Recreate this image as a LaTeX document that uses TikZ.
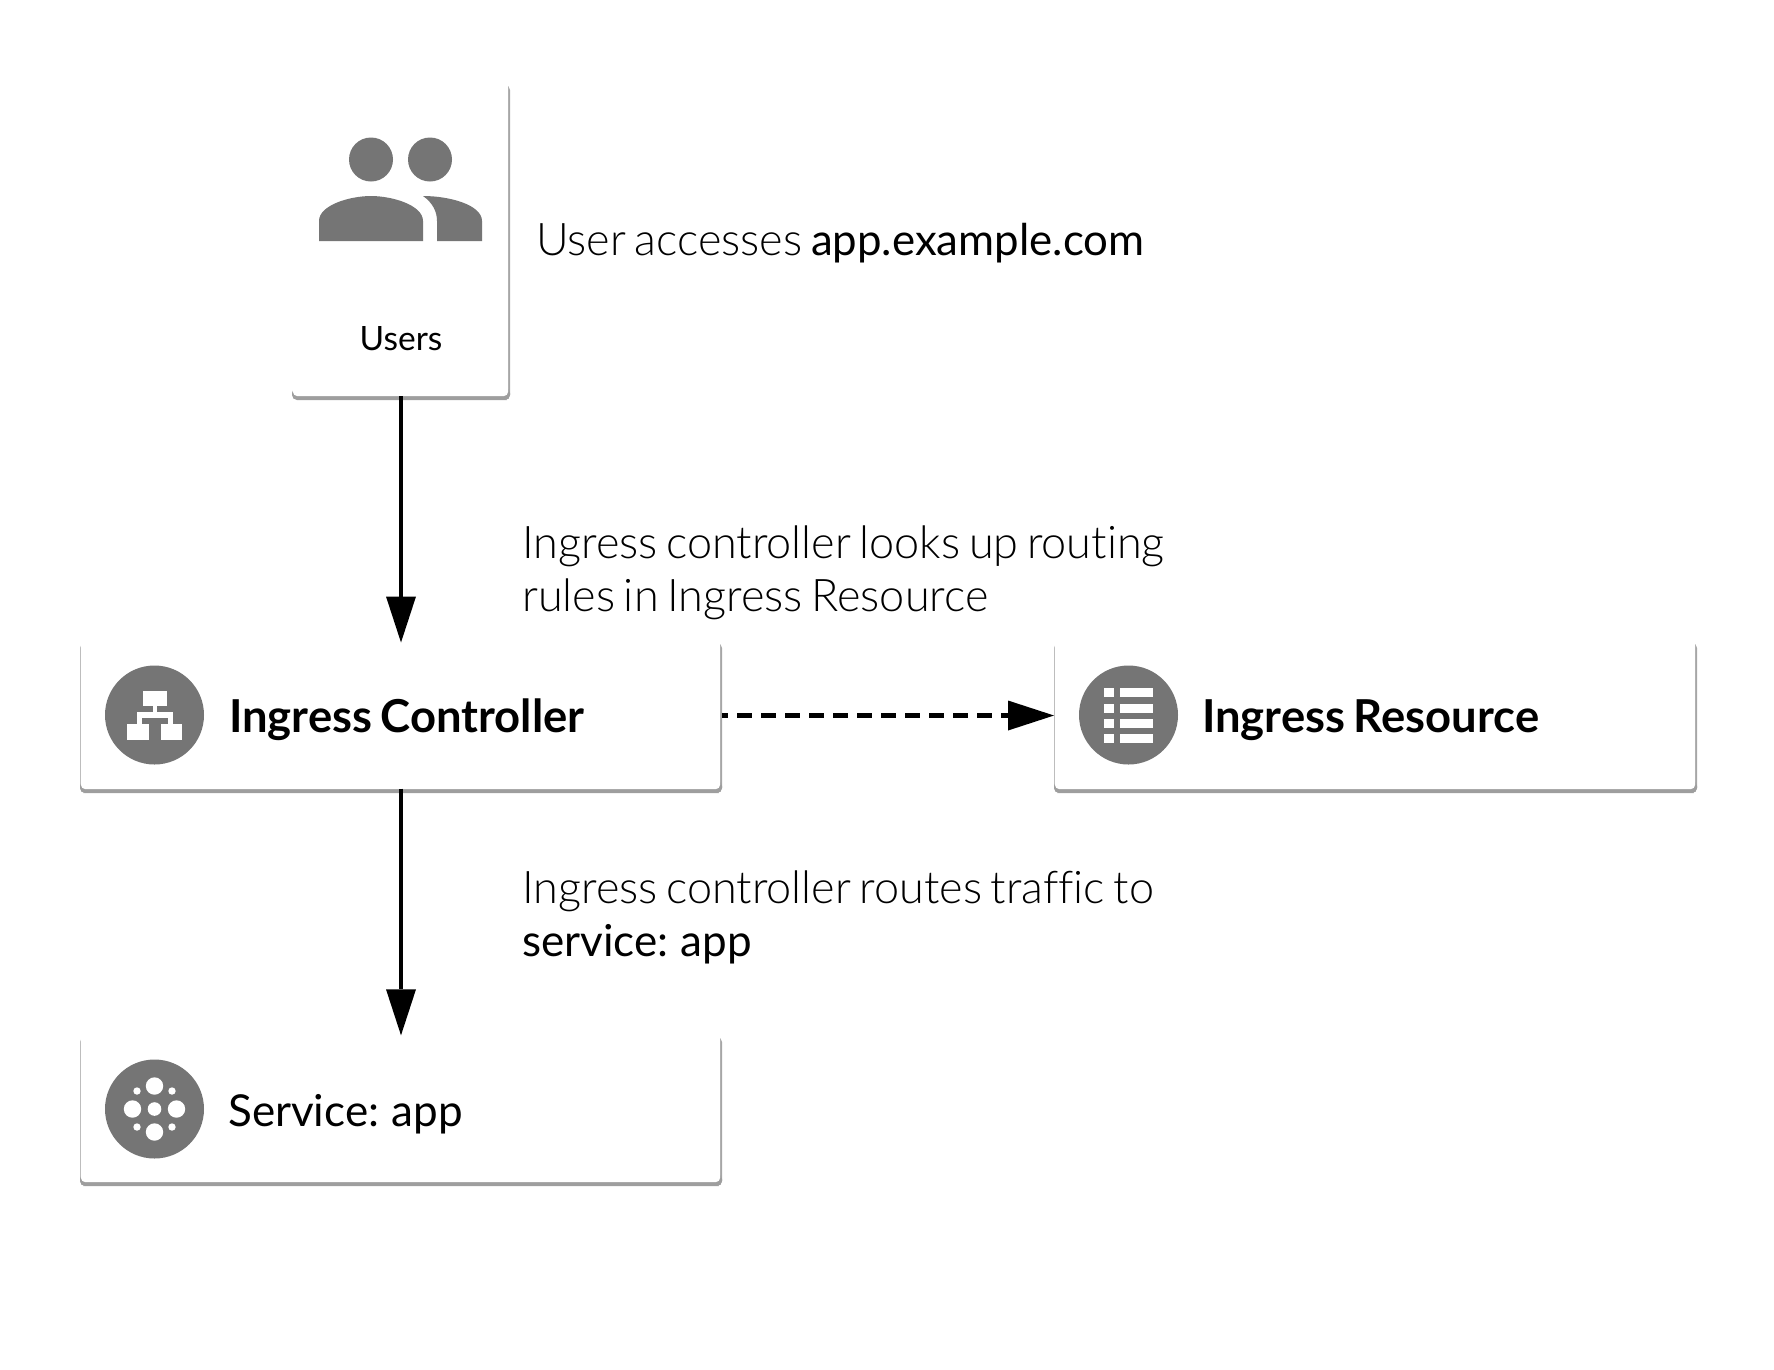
\documentclass[tikz,border=0pt]{standalone}
\usepackage{fontspec}
\setmainfont[Ligatures=NoCommon,WordSpace=0.75]{Lato}
\newfontfamily\latolight[Ligatures=NoCommon,WordSpace=0.7]{Lato Light}
\usetikzlibrary{arrows.meta}
\definecolor{icongray}{HTML}{757575}
\definecolor{edgeL}{HTML}{BDBDBD}
\definecolor{edgeR}{HTML}{A6A6A6}
\definecolor{edgeB}{HTML}{9E9E9E}
\tikzset{
  x=1pt,y=-1pt,
  cardnode/.style={inner sep=0pt,outer sep=0pt,minimum width=#1},
  cardnode/.default=642pt,
  link/.style={line width=4.8pt,-{Triangle[length=46pt,width=30pt,line width=0pt]}},
  note/.style={inner sep=0pt,anchor=base west,align=left,font=\fontsize{45}{53}\latolight\selectfont},
  title/.style={inner sep=0pt,anchor=base west,font=\fontsize{45.4}{53}\bfseries\selectfont},
  ticon/.style={inner sep=0pt,anchor=base west,font=\fontsize{44}{53}\selectfont},
  disc/.style={circle,fill=icongray,minimum size=99pt,inner sep=0pt},
  head/.style={circle,fill=icongray,minimum size=44pt,inner sep=0pt},
}
% left x, top y, right x, bottom y, colour of the left edge
\newcommand{\cardedge}[5]{%
  \fill[#5,rounded corners=5pt] (#1,#2) -- (#1,#4) -- (#1+8,#4) -- (#1+8,#2) -- cycle;
  \fill[edgeR,rounded corners=5pt] (#3-8,#2) -- (#3-8,#4) -- (#3,#4) -- (#3,#2) -- cycle;
  \fill[edgeB,rounded corners=5pt] (#1,#4-12) -- (#1,#4) -- (#3,#4) -- (#3,#4-12) -- cycle;
  \fill[white,rounded corners=4pt] (#1+1,#2-6) rectangle (#3-2,#4-4);
}
\begin{document}
\begin{tikzpicture}
\useasboundingbox (0,0) rectangle (1774,1369);
% Cards
\cardedge{292}{85}{510}{400}{white}
\cardedge{80}{643}{722}{793}{edgeL}
\cardedge{1054}{643}{1697}{793}{edgeL}
\cardedge{80}{1037}{722}{1186}{edgeL}
\node[cardnode=218pt,minimum height=311pt] (users) at (401,240.5) {};
\node[cardnode=642pt,minimum height=146pt] (ctrl) at (401,715.5) {};
\node[cardnode=643pt,minimum height=146pt] (res) at (1375.5,715.5) {};
\node[cardnode=642pt,minimum height=147.4pt] (svc) at (401,1109) {};
% Users icon
\node[head] (headA) at (371,159.5) {};
\node[head] (headB) at (430,159.5) {};
\fill[icongray] (319,241) -- (319,221) .. controls (319,205) and (350,196) .. (371,196)
  .. controls (392,196) and (423,205) .. (423,221) -- (423,241) -- cycle;
\fill[icongray] (437,241) -- (437,221) .. controls (437,212) and (433,203) .. (423,196)
  .. controls (450,196) and (482,205) .. (482,221) -- (482,241) -- cycle;
% Discs
\node[disc] (d1) at (154.5,715) {};
\node[disc] (d2) at (1128.5,715) {};
\node[disc] (d3) at (154.5,1109) {};
% hierarchy glyph
\fill[white] (142.5,691) rectangle (167,706);
\fill[white] (152.5,706) rectangle (157,712.3);
\fill[white] (136.7,712.3) rectangle (172.5,717.7);
\fill[white] (136.7,717.7) rectangle (141.7,724);
\fill[white] (167.5,717.7) rectangle (172.5,724);
\fill[white] (127,724) rectangle (149,740);
\fill[white] (160.7,724) rectangle (182.3,740);
% list glyph
\foreach \yy in {688,703.5,719,734.3}{
  \fill[white] (1104,\yy) rectangle (1113.5,\yy+9);
  \fill[white] (1119.5,\yy) rectangle (1153,\yy+9);
}
% dots glyph
\foreach \cx/\cy/\rr in {154.5/1086/8.7,154.5/1132/8.7,132.5/1109/8.7,176.5/1109/8.7,154.5/1109/6.8,
  137/1091/3.7,172/1091/3.7,137/1127/3.7,172/1127/3.7}{
  \fill[white] (\cx,\cy) circle[radius=\rr];
}
% Texts
\node[inner sep=0pt,anchor=base,font=\fontsize{33.5}{40}\selectfont] (ulabel) at (401,350) {Users};
\node[note] (n1) at (536,255.5) {User accesses {\normalfont\fontsize{43.8}{53}\selectfont app.example.com}};
\node[note] (n2) at (522,611) {Ingress controller looks up routing\\rules in Ingress Resource};
\node[note] (n3) at (522,956) {Ingress controller routes traffic to\\{\normalfont\fontsize{44}{53}\selectfont service: app}};
\node[title] (t1) at (229,732) {Ingress Controller};
\node[title] (t2) at (1202,732) {Ingress Resource};
\node[ticon] (t3) at (228,1126) {Service: app};
% Connectors
\draw[link] (users.south) -- (ctrl.north);
\draw[link] (ctrl.south) -- (svc.north);
\draw[link,dash pattern=on 15pt off 9pt,dash phase=9pt] (ctrl.east) -- (res.west);
\end{tikzpicture}
\end{document}
